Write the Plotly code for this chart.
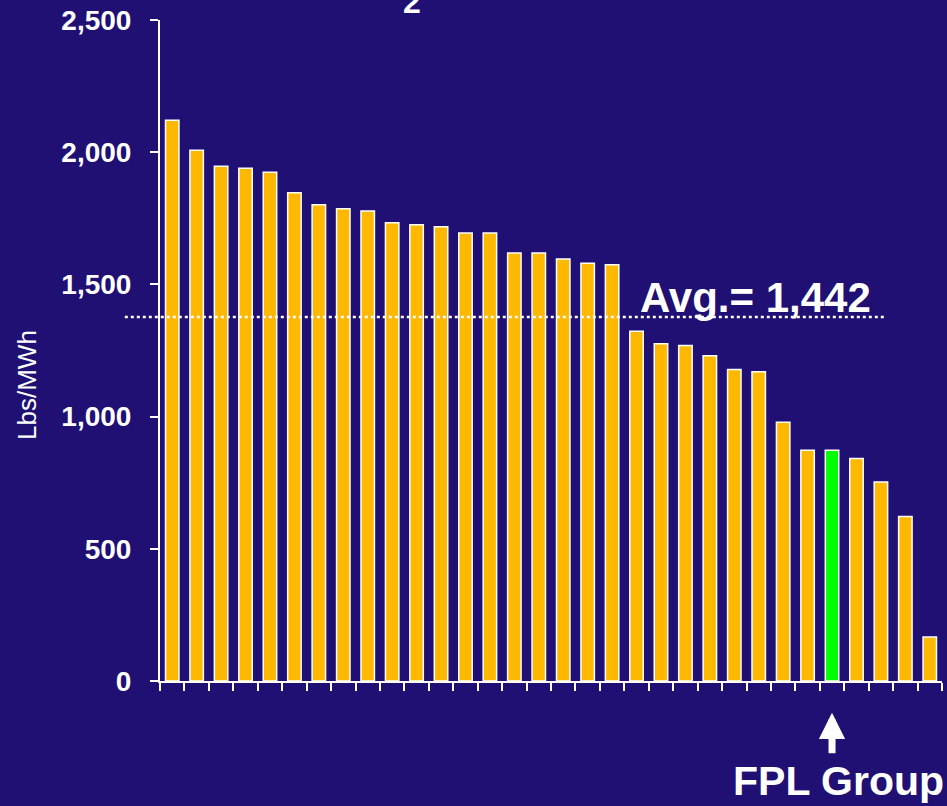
import plotly.graph_objects as go

# ---- data ----
ranks = [f"#{i}" for i in range(1, 33)]
emission_rate = [2121, 2007, 1947, 1939, 1924, 1847, 1801, 1786, 1778, 1733,
                 1726, 1718, 1694, 1694, 1619, 1619, 1596, 1580, 1574, 1323,
                 1276, 1269, 1230, 1178, 1170, 979, 873, 873, 842, 753,
                 622, 166]
highlight_rank = "#28"          # FPL Group
avg_label_value = "1,442"
avg_line_level = 1377
y_tick_values = [0, 500, 1000, 1500, 2000, 2500]
y_tick_labels = ["0", "500", "1,000", "1,500", "2,000", "2,500"]

BG = "#201073"
ORANGE = "#FFB800"
GREEN = "#00FF00"
FONT = "Arial, Liberation Sans, sans-serif"

colors = [GREEN if r == highlight_rank else ORANGE for r in ranks]
hl_index = ranks.index(highlight_rank)

fig = go.Figure()
fig.add_trace(go.Bar(
    x=ranks, y=emission_rate,
    marker=dict(color=colors, line=dict(color="white", width=1.5)),
    hoverinfo="y",
))

fig.update_layout(
    width=947, height=806,
    paper_bgcolor=BG, plot_bgcolor=BG,
    margin=dict(l=160, r=5, t=18, b=125),
    bargap=0.45,
    showlegend=False,
    font=dict(family=FONT, color="white"),
)
fig.update_xaxes(
    type="category", showticklabels=False, tickson="boundaries",
    ticks="outside", ticklen=8, tickwidth=1.5, tickcolor="white",
    showline=True, linecolor="white", linewidth=2, showgrid=False,
    range=[-0.5, len(ranks) - 0.5],
)
fig.update_yaxes(
    range=[0, 2500], tickvals=y_tick_values, ticktext=y_tick_labels,
    ticks="outside", ticklen=8, tickwidth=1.5, tickcolor="white",
    showline=True, linecolor="white", linewidth=2, showgrid=False,
    zeroline=False, ticklabelstandoff=13,
    tickfont=dict(family=FONT, size=28, color="white", weight="bold"),
)

# y-axis title (placed slightly below the axis middle, as in the original)
fig.add_annotation(xref="paper", yref="paper", x=-0.17, y=0.448,
                   xanchor="center", yanchor="middle", textangle=-90,
                   showarrow=False, text="Lbs/MWh",
                   font=dict(family=FONT, size=26, color="white"))

# average line (dotted)
fig.add_shape(type="line", xref="paper", yref="y",
              x0=-0.045, x1=0.926, y0=avg_line_level, y1=avg_line_level,
              line=dict(color="white", width=2.5, dash="dot"))
fig.add_annotation(xref="paper", yref="y", x=0.762, y=avg_line_level,
                   xanchor="center", yanchor="bottom", yshift=-6,
                   showarrow=False, text=f"Avg.= {avg_label_value}",
                   font=dict(family=FONT, size=42, color="white", weight="bold"))

# FPL Group pointer
fig.add_annotation(xref="x", yref="paper", x=hl_index, y=-0.048,
                   ax=0, ay=42, showarrow=True, arrowhead=2, arrowsize=0.75,
                   arrowwidth=7, arrowcolor="white", text="")
fig.add_annotation(xref="paper", yref="paper", x=1.0, y=-0.1885,
                   xanchor="right", yanchor="bottom", showarrow=False,
                   text="FPL Group", xshift=4,
                   font=dict(family=FONT, size=41, color="white", weight="bold"))

# clipped title subscript at top
fig.add_annotation(xref="paper", yref="paper", x=0.322, y=1.0,
                   xanchor="center", yanchor="middle", yshift=18,
                   showarrow=False, text="2",
                   font=dict(family=FONT, size=32, color="white", weight="bold"))

fig.write_html(
    "out.html",
    config={"displayModeBar": False},
    post_script="document.body.style.margin='0';"
                "document.body.style.background='#201073';"
                "document.body.style.overflow='hidden';",
)
